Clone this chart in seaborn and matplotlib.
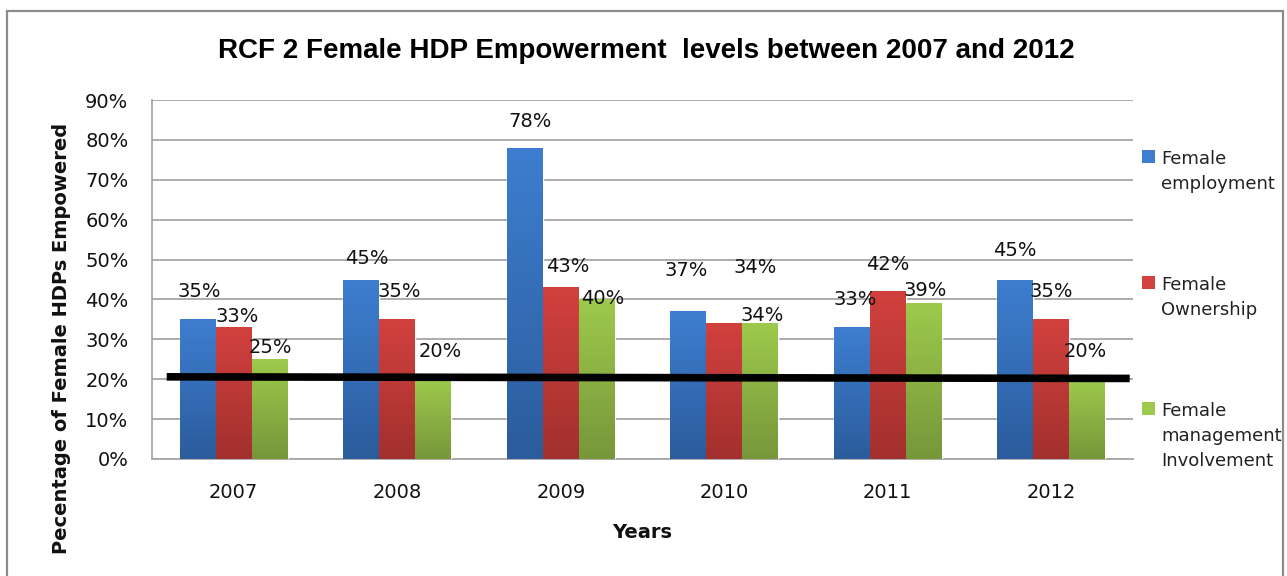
import numpy as np
import pandas as pd
import matplotlib
matplotlib.use("Agg")
import matplotlib.pyplot as plt
import seaborn as sns
from matplotlib.patches import Patch, Rectangle
from matplotlib.colors import LinearSegmentedColormap

# ---- data ----
years = ["2007", "2008", "2009", "2010", "2011", "2012"]
series = ["Female employment", "Female Ownership", "Female management Involvement"]
legend_labels = ["Female\nemployment", "Female\nOwnership", "Female\nmanagement\nInvolvement"]
employment = [35, 45, 78, 37, 33, 45]
ownership = [33, 35, 43, 34, 42, 35]
management = [25, 20, 40, 34, 39, 20]
yticks = [0, 10, 20, 30, 40, 50, 60, 70, 80, 90]
threshold_x = [-0.41, 5.48]
threshold_y = [20.6, 20.2]

title = "RCF 2 Female HDP Empowerment  levels between 2007 and 2012"
xlabel = "Years"
ylabel = "Pecentage of Female HDPs Empowered"

# ---- styling / layout (manual label placement, in pixels) ----
top_colors = ["#3E7ED0", "#D2413E", "#9DCA4C"]
bottom_colors = ["#2B5C9C", "#A2302E", "#77963A"]
label_dx = [[1, 6, 5, -2, 3, 0], [3, 2, 7, 31, 0, 0], [1, 7, 6, 2, 1, -2]]
label_dy = [[28, 21, 26, 41, 28, 29], [11, 28, 21, 56, 27, 28], [12, 28, 1, 8, 13, 28]]

df = pd.DataFrame({
    "Year": years * 3,
    "Series": [series[0]] * 6 + [series[1]] * 6 + [series[2]] * 6,
    "Value": employment + ownership + management,
})

sns.set_theme(style="white")
plt.rcParams["font.family"] = ["DejaVu Sans"]

W, H = 1287, 576
fig = plt.figure(figsize=(W / 100, H / 100), dpi=100)
ax = fig.add_axes([152 / W, 1 - 459 / H, (1133 - 152) / W, (459 - 100) / H])

sns.barplot(data=df, x="Year", y="Value", hue="Series", order=years,
            hue_order=series, palette=top_colors, width=0.66, ax=ax,
            saturation=1, errorbar=None, legend=False, zorder=3)

ax.set_ylim(0, 90)
ax.set_xlim(-0.5, len(years) - 0.5)
ax.set_autoscale_on(False)

# gradient fill for bars + data labels
grad = np.linspace(0, 1, 256).reshape(-1, 1)
for ci, cont in enumerate(ax.containers):
    cmap = LinearSegmentedColormap.from_list("g%d" % ci, [bottom_colors[ci], top_colors[ci]])
    for pi, p in enumerate(cont.patches):
        x0, y0 = p.get_x(), p.get_y()
        w, h = p.get_width(), p.get_height()
        im = ax.imshow(grad, cmap=cmap, origin="lower", aspect="auto",
                       extent=[x0, x0 + w, y0, y0 + h], zorder=3.5,
                       interpolation="bilinear")
        im.set_clip_path(p)
        ann = ax.annotate(f"{cont.datavalues[pi]:.0f}%", xy=(x0 + w / 2, y0 + h),
                          xytext=(label_dx[ci][pi] * 0.72, label_dy[ci][pi] * 0.72),
                          textcoords="offset points", ha="center", va="center",
                          fontsize=14, color="#111111")
        ann.set_zorder(7)

# threshold line
ax.plot(threshold_x, threshold_y, color="black", lw=5.5, solid_capstyle="butt", zorder=5)

# axes styling
ax.set_yticks(yticks)
ax.set_yticklabels([f"{t}%" for t in yticks])
ax.yaxis.grid(True, color="#A6A6A6", lw=1.3, zorder=0)
ax.set_axisbelow(True)
for s in ["top", "right"]:
    ax.spines[s].set_visible(False)
for s in ["left", "bottom"]:
    ax.spines[s].set_color("#A6A6A6")
    ax.spines[s].set_linewidth(1.3)
ax.tick_params(axis="y", length=0, pad=17, labelsize=14, labelcolor="#111111")
ax.tick_params(axis="x", length=0, pad=17, labelsize=14, labelcolor="#111111")

ax.set_xlabel(xlabel, fontsize=14, fontweight="bold", va="center", color="#111111")
ax.xaxis.set_label_coords(0.5, (459 - 533) / 359)
ax.set_ylabel(ylabel, fontsize=14, fontweight="bold", va="center", color="#111111")
ax.yaxis.set_label_coords((62 - 152) / 981, (459 - 338) / 359)

fig.text(646 / W, 1 - 58 / H, title, ha="center", va="baseline",
         fontsize=20, fontweight="bold", fontstretch="normal", color="black",
         family=["Liberation Sans", "DejaVu Sans"])

# legend
handles = [Patch(facecolor=c, edgecolor="none") for c in top_colors]
leg = fig.legend(handles, legend_labels, loc="upper left",
                 bbox_to_anchor=(1142 / W, 1 - 150 / H), frameon=False,
                 fontsize=13, handlelength=0.7, handleheight=0.7,
                 handletextpad=0.35, labelspacing=4.6, borderpad=0,
                 borderaxespad=0)
for col in leg._legend_handle_box.get_children():
    for item in col.get_children():
        item.align = "top"
for t in leg.get_texts():
    t.set_color("#222222")
    t.set_linespacing(1.5)

# figure border
fig.patches.append(Rectangle((7 / W, -0.05), (1283 - 7) / W, 1 - 11 / H + 0.05,
                             transform=fig.transFigure, fill=False,
                             edgecolor="#8C8C8C", lw=1.6))

fig.savefig("out.png", dpi=100)
